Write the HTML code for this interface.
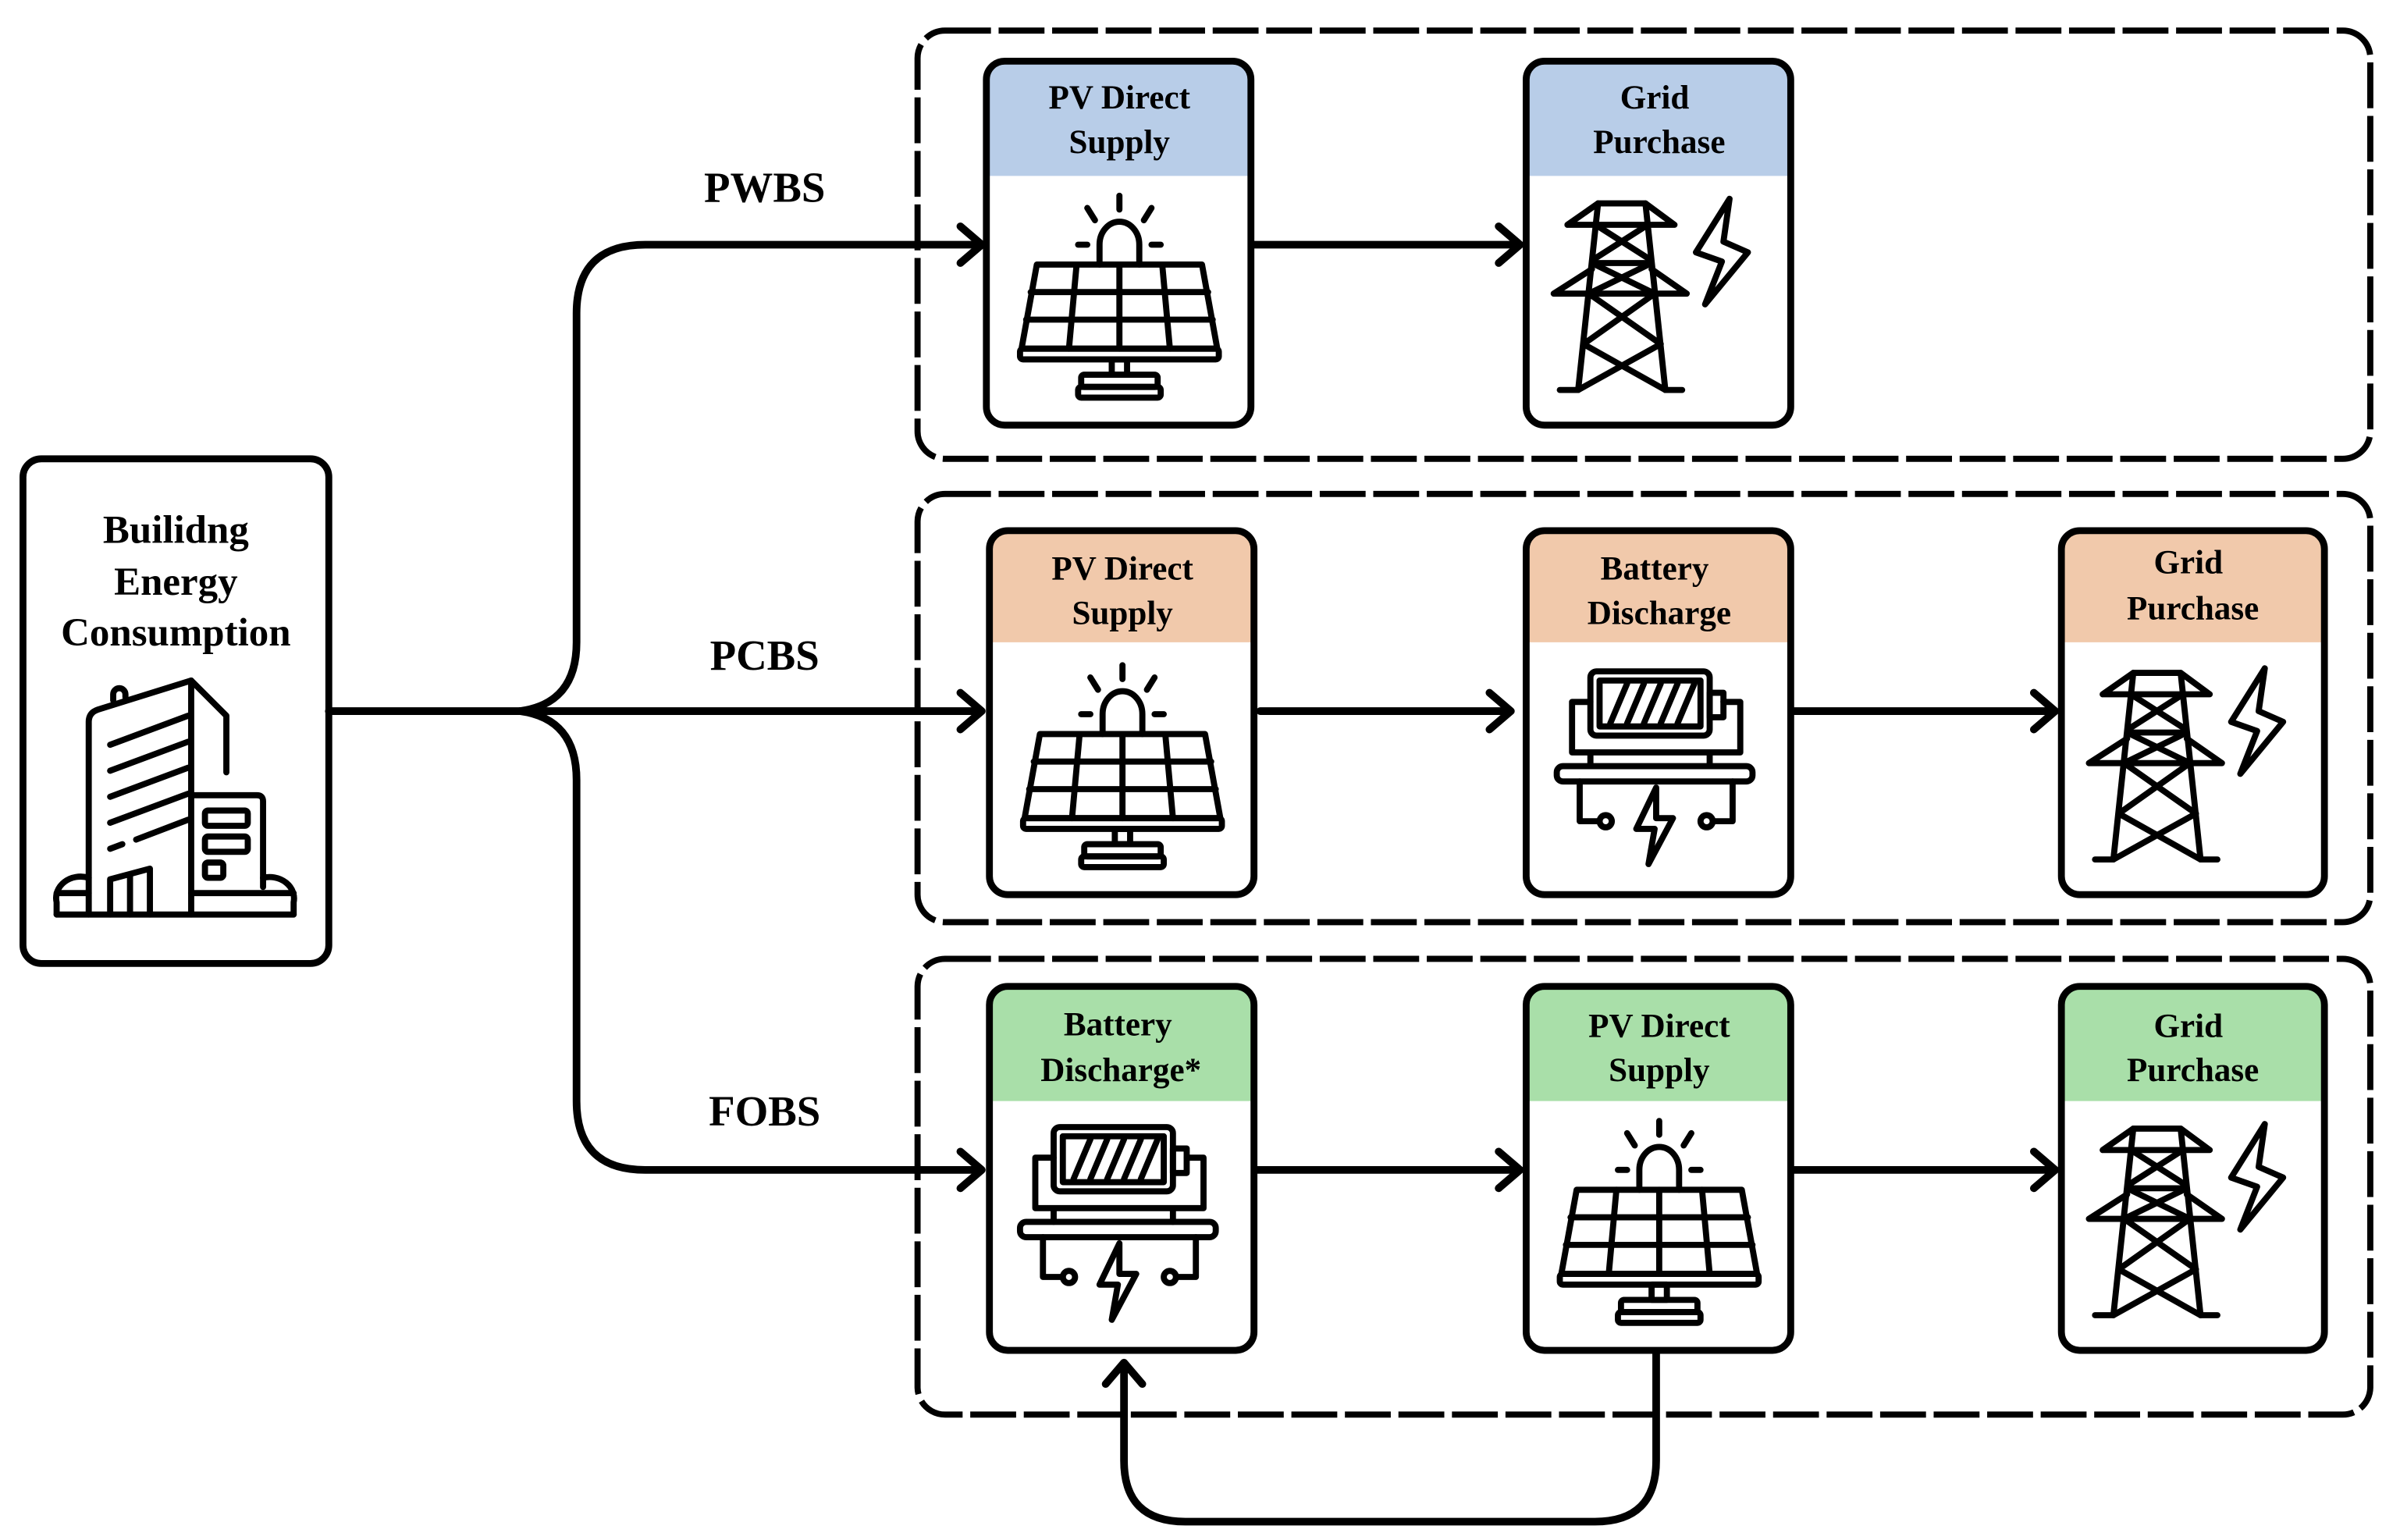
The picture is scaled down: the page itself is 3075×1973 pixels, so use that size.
<!DOCTYPE html>
<html><head><meta charset="utf-8"><style>
html,body{margin:0;padding:0;background:#fff;}
svg{display:block;}
text{font-family:"Liberation Serif",serif;font-weight:bold;fill:#000;}
</style></head><body>
<svg width="3075" height="1973" viewBox="0 0 1569.4 1007" xmlns="http://www.w3.org/2000/svg">
<defs>
<g id="solar" fill="none" stroke="#000" stroke-width="4" stroke-linecap="round" stroke-linejoin="round">
  <line x1="87" y1="88" x2="87" y2="97"/>
  <line x1="66" y1="96" x2="71" y2="104"/>
  <line x1="108" y1="96" x2="103" y2="104"/>
  <line x1="60" y1="120" x2="66" y2="120"/>
  <line x1="108" y1="120" x2="114" y2="120"/>
  <path d="M74 133 L74 120 A13 15 0 0 1 100 120 L100 133"/>
  <path d="M33 133 L141 133 L151 188 L23 188 Z"/>
  <rect x="22" y="188" width="130" height="7" rx="2"/>
  <line x1="29" y1="151" x2="145" y2="151"/>
  <line x1="26" y1="169" x2="148" y2="169"/>
  <line x1="59" y1="133" x2="54" y2="188"/>
  <line x1="87" y1="133" x2="87" y2="188"/>
  <line x1="115" y1="133" x2="120" y2="188"/>
  <rect x="82" y="195" width="10" height="10"/>
  <rect x="62" y="205" width="50" height="8" rx="2"/>
  <rect x="60" y="213" width="54" height="7" rx="2"/>
</g>
<g id="tower" fill="none" stroke="#000" stroke-width="4" stroke-linecap="round" stroke-linejoin="round">
  <path d="M47 93 L27 107 L97 107 L78 93 Z"/>
  <path d="M47 93 L34 215 M78 93 L91 215"/>
  <path d="M43 136 L18 152 L105 152 L82 136"/>
  <line x1="43" y1="132" x2="82" y2="132"/>
  <path d="M45.5 107 L81.5 130 M79.5 107 L43.5 130 M43 132 L84 152 M82 132 L41 152 M41 152 L88 185 M84 152 L37.5 185 M37.5 185 L91 215 M88 185 L34 215"/>
  <line x1="22" y1="215" x2="34" y2="215"/>
  <line x1="91" y1="215" x2="102" y2="215"/>
  <path d="M133 90 L111 125 L128 131 L117 159 L145 125 L129 118 Z"/>
</g>
<g id="battery" fill="none" stroke="#000" stroke-width="4" stroke-linecap="round" stroke-linejoin="round">
  <rect x="42" y="92" width="78" height="42" rx="4"/>
  <rect x="48" y="98" width="66" height="30"/>
  <path d="M55 126 L66 100 M66 126 L77 100 M77 126 L88 100 M88 126 L99 100 M99 126 L110 100"/>
  <rect x="120" y="106" width="9" height="16"/>
  <path d="M42 112 L30 112 L30 145 L42 145 L42 154 M120 145 L140 145 L140 112 L129 112 M120 145 L120 154 M42 145 L120 145"/>
  <rect x="20" y="154" width="128" height="10" rx="4"/>
  <path d="M35 164 L35 190 L48 190 M135 164 L135 190 L122 190"/>
  <circle cx="52" cy="190" r="4"/>
  <circle cx="118" cy="190" r="4"/>
  <path d="M85 168 L72 195 L84 195 L80 218 L96 188 L85 188 Z"/>
</g>
</defs>

<g fill="none" stroke="#000" stroke-width="4" stroke-dasharray="30,5">
  <rect x="600" y="20" width="950" height="280" rx="18"/>
  <rect x="600" y="323" width="950" height="280" rx="18"/>
  <rect x="600" y="627" width="950" height="298" rx="18"/>
</g>

<rect x="15" y="300" width="200" height="330" rx="12" fill="#fff" stroke="#000" stroke-width="4.5"/>
<text x="115" y="355" font-size="26" text-anchor="middle">Builidng</text>
<text x="115" y="389" font-size="26" text-anchor="middle">Energy</text>
<text x="115" y="422" font-size="26" text-anchor="middle">Consumption</text>
<g fill="none" stroke="#000" stroke-width="4" stroke-linecap="round" stroke-linejoin="round">
  <path d="M58 598 L58 472 Q58 466 64 464 L125 445 L125 598"/>
  <path d="M74 458 L74 454 A4 4 0 0 1 82 454 L82 456"/>
  <path d="M125 445 L148 468 L148 505"/>
  <path d="M125 520 L168 520 Q172 520 172 524 L172 580"/>
  <path d="M37 598 L37 590 A16 14 0 0 1 58 574"/>
  <path d="M172 574 A16 14 0 0 1 192 590 L192 598"/>
  <line x1="37" y1="598" x2="192" y2="598"/>
  <line x1="37" y1="584" x2="58" y2="584"/>
  <line x1="125" y1="584" x2="192" y2="584"/>
  <line x1="72" y1="487" x2="123" y2="468"/>
  <line x1="72" y1="504" x2="123" y2="485"/>
  <line x1="72" y1="521" x2="123" y2="502"/>
  <line x1="72" y1="538" x2="123" y2="519"/>
  <line x1="72" y1="555" x2="80" y2="552"/>
  <line x1="89" y1="549" x2="123" y2="536"/>
  <path d="M72 598 L72 575 L98 568 L98 598 M85 572 L85 598"/>
  <rect x="134" y="530" width="28" height="10" rx="2"/>
  <rect x="134" y="547" width="28" height="10" rx="2"/>
  <rect x="134" y="564" width="12" height="10" rx="2"/>
</g>

<g fill="none" stroke="#000" stroke-width="5" stroke-linecap="round" stroke-linejoin="round">
  <line x1="215" y1="465" x2="638" y2="465"/>
  <path d="M340 465 Q377 460 377 420 L377 205 Q377 160 422 160 L638 160"/>
  <path d="M340 465 Q377 470 377 510 L377 720 Q377 765 422 765 L638 765"/>
  <line x1="820" y1="160" x2="990" y2="160"/>
  <line x1="824" y1="465" x2="984" y2="465"/>
  <line x1="1173" y1="465" x2="1340" y2="465"/>
  <line x1="822" y1="765" x2="990" y2="765"/>
  <line x1="1173" y1="765" x2="1340" y2="765"/>
  <path d="M1083 885 L1083 955 Q1083 995 1043 995 L775 995 Q735 995 735 955 L735 895"/>
  <path d="M628 148 L642 160 L628 172"/>
  <path d="M628 453 L642 465 L628 477"/>
  <path d="M628 753 L642 765 L628 777"/>
  <path d="M980 148 L994 160 L980 172"/>
  <path d="M974 453 L988 465 L974 477"/>
  <path d="M1330 453 L1344 465 L1330 477"/>
  <path d="M980 753 L994 765 L980 777"/>
  <path d="M1330 753 L1344 765 L1330 777"/>
  <path d="M723 905 L735 891 L747 905"/>
</g>

<text x="500" y="132" font-size="28" text-anchor="middle">PWBS</text>
<text x="500" y="438" font-size="28" text-anchor="middle">PCBS</text>
<text x="500" y="736" font-size="28" text-anchor="middle">FOBS</text>

<g transform="translate(645,40)">
  <path d="M12 0 H161 Q173 0 173 12 V75 H0 V12 Q0 0 12 0 Z" fill="#b8cde8"/>
  <rect x="0" y="0" width="173" height="238" rx="12" fill="none" stroke="#000" stroke-width="4.5"/>
  <text x="87" y="31" font-size="22" text-anchor="middle">PV Direct</text>
  <text x="87" y="60" font-size="22" text-anchor="middle">Supply</text>
  <use href="#solar"/>
</g>
<g transform="translate(998,40)">
  <path d="M12 0 H161 Q173 0 173 12 V75 H0 V12 Q0 0 12 0 Z" fill="#b8cde8"/>
  <rect x="0" y="0" width="173" height="238" rx="12" fill="none" stroke="#000" stroke-width="4.5"/>
  <text x="84" y="31" font-size="22" text-anchor="middle">Grid</text>
  <text x="87" y="60" font-size="22" text-anchor="middle">Purchase</text>
  <use href="#tower"/>
</g>

<g transform="translate(647,347)">
  <path d="M12 0 H161 Q173 0 173 12 V73 H0 V12 Q0 0 12 0 Z" fill="#f1c9ab"/>
  <rect x="0" y="0" width="173" height="238" rx="12" fill="none" stroke="#000" stroke-width="4.5"/>
  <text x="87" y="32" font-size="22" text-anchor="middle">PV Direct</text>
  <text x="87" y="61" font-size="22" text-anchor="middle">Supply</text>
  <use href="#solar"/>
</g>
<g transform="translate(998,347)">
  <path d="M12 0 H161 Q173 0 173 12 V73 H0 V12 Q0 0 12 0 Z" fill="#f1c9ab"/>
  <rect x="0" y="0" width="173" height="238" rx="12" fill="none" stroke="#000" stroke-width="4.5"/>
  <text x="84" y="32" font-size="22" text-anchor="middle">Battery</text>
  <text x="87" y="61" font-size="22" text-anchor="middle">Discharge</text>
  <use href="#battery"/>
</g>
<g transform="translate(1348,347)">
  <path d="M12 0 H160 Q172 0 172 12 V73 H0 V12 Q0 0 12 0 Z" fill="#f1c9ab"/>
  <rect x="0" y="0" width="172" height="238" rx="12" fill="none" stroke="#000" stroke-width="4.5"/>
  <text x="83" y="28" font-size="22" text-anchor="middle">Grid</text>
  <text x="86" y="58" font-size="22" text-anchor="middle">Purchase</text>
  <use href="#tower"/>
</g>

<g transform="translate(647,645)">
  <path d="M12 0 H161 Q173 0 173 12 V75 H0 V12 Q0 0 12 0 Z" fill="#a9dfa9"/>
  <rect x="0" y="0" width="173" height="238" rx="12" fill="none" stroke="#000" stroke-width="4.5"/>
  <text x="84" y="32" font-size="22" text-anchor="middle">Battery</text>
  <text x="86" y="62" font-size="22" text-anchor="middle">Discharge*</text>
  <use href="#battery"/>
</g>
<g transform="translate(998,645)">
  <path d="M12 0 H161 Q173 0 173 12 V75 H0 V12 Q0 0 12 0 Z" fill="#a9dfa9"/>
  <rect x="0" y="0" width="173" height="238" rx="12" fill="none" stroke="#000" stroke-width="4.5"/>
  <text x="87" y="33" font-size="22" text-anchor="middle">PV Direct</text>
  <text x="87" y="62" font-size="22" text-anchor="middle">Supply</text>
  <use href="#solar"/>
</g>
<g transform="translate(1348,645)">
  <path d="M12 0 H160 Q172 0 172 12 V75 H0 V12 Q0 0 12 0 Z" fill="#a9dfa9"/>
  <rect x="0" y="0" width="172" height="238" rx="12" fill="none" stroke="#000" stroke-width="4.5"/>
  <text x="83" y="33" font-size="22" text-anchor="middle">Grid</text>
  <text x="86" y="62" font-size="22" text-anchor="middle">Purchase</text>
  <use href="#tower"/>
</g>
</svg>
</body></html>
